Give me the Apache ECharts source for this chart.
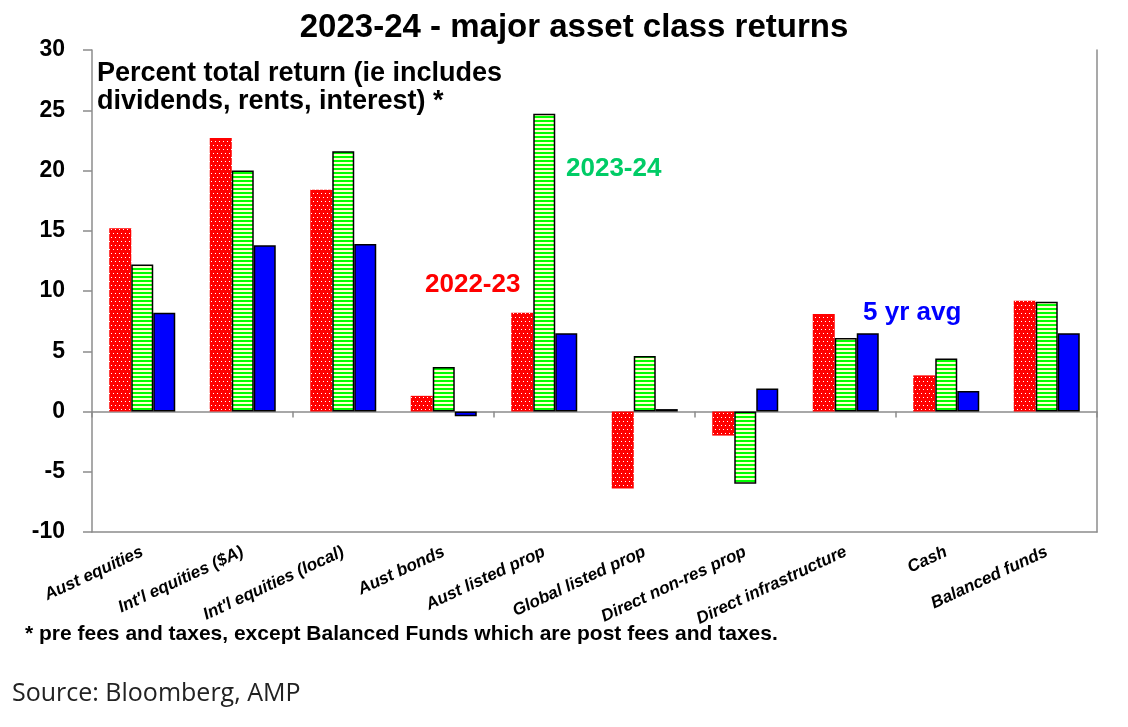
<!DOCTYPE html>
<html>
<head>
<meta charset="utf-8">
<script src="https://cdn.jsdelivr.net/npm/echarts@6/dist/echarts.min.js"></script>
<style>
  html, body { margin: 0; padding: 0; background: #fff; }
  #chart { width: 1128px; height: 727px; }
</style>
</head>
<body>
<div id="chart"></div>
<script>
const categories = ['Aust equities', "Int'l equities ($A)", "Int'l equities (local)", 'Aust bonds', 'Aust listed prop', 'Global listed prop', 'Direct non-res prop', 'Direct infrastructure', 'Cash', 'Balanced funds'];
const fy2223 = [15.2, 22.7, 18.4, 1.3, 8.2, -6.4, -2.0, 8.1, 3.0, 9.2];
const fy2324 = [12.2, 20.0, 21.6, 3.7, 24.7, 4.6, -6.0, 6.1, 4.4, 9.1];
const avg5yr = [8.2, 13.8, 13.9, -0.4, 6.5, 0.2, 1.9, 6.5, 1.7, 6.5];

// fill patterns like the excel chart
function dotPattern() {
  const c = document.createElement('canvas');
  c.width = 8; c.height = 8;
  const ctx = c.getContext('2d');
  ctx.fillStyle = '#ff0000';
  ctx.fillRect(0, 0, 8, 8);
  ctx.fillStyle = '#ffffff';
  ctx.fillRect(1, 1, 1, 1);
  ctx.fillRect(5, 1, 1, 1);
  ctx.fillRect(3, 5, 1, 1);
  ctx.fillRect(7, 5, 1, 1);
  return c;
}
function stripePattern() {
  const c = document.createElement('canvas');
  c.width = 4; c.height = 4;
  const ctx = c.getContext('2d');
  ctx.fillStyle = '#00ff00';
  ctx.fillRect(0, 0, 4, 2);
  ctx.fillStyle = '#ffffcc';
  ctx.fillRect(0, 2, 4, 2);
  return c;
}

const chart = echarts.init(document.getElementById('chart'));
const axisGrey = '#8c8c8c';
const fam = '"Liberation Sans", Arial, sans-serif';
const f = s => 'bold ' + s + 'px ' + fam;

const option = {
  animation: false,
  grid: { left: 92, right: 31, top: 50, bottom: 195 },
  xAxis: [
    {
      type: 'category',
      data: categories,
      position: 'bottom',
      axisLine: { onZero: false, lineStyle: { color: axisGrey, width: 1.5 } },
      axisTick: { show: false },
      axisLabel: {
        rotate: 25,
        interval: 0,
        margin: 19,
        color: '#000',
        fontSize: 17,
        fontWeight: 'bold',
        fontStyle: 'italic',
        fontFamily: fam
      }
    },
    {
      type: 'category',
      data: categories,
      position: 'bottom',
      axisLine: { onZero: true, onZeroAxisIndex: 0, lineStyle: { color: axisGrey, width: 1.5 } },
      axisTick: { show: true, length: 6, lineStyle: { color: axisGrey, width: 1.5 } },
      axisLabel: { show: false }
    }
  ],
  yAxis: [
    {
      type: 'value',
      min: -10,
      max: 30,
      interval: 5,
      position: 'left',
      axisLine: { show: true, onZero: false, lineStyle: { color: axisGrey, width: 1.5 } },
      axisTick: { show: true, length: 9, lineStyle: { color: axisGrey, width: 1.5 } },
      splitLine: { show: false },
      axisLabel: {
        margin: 27,
        color: '#000',
        fontSize: 23,
        fontWeight: 'bold',
        fontFamily: fam
      }
    },
    {
      type: 'value',
      min: -10,
      max: 30,
      interval: 5,
      position: 'right',
      axisLine: { show: true, onZero: false, lineStyle: { color: axisGrey, width: 1.5 } },
      axisTick: { show: false },
      splitLine: { show: false },
      axisLabel: { show: false }
    }
  ],
  series: [
    {
      name: '2022-23',
      type: 'bar',
      data: fy2223,
      barWidth: 22,
      barGap: '0%',
      itemStyle: { color: { image: dotPattern(), repeat: 'repeat' } }
    },
    {
      name: '2023-24',
      type: 'bar',
      data: fy2324,
      barWidth: 22,
      barGap: '0%',
      itemStyle: { color: { image: stripePattern(), repeat: 'repeat' }, borderColor: '#000', borderWidth: 1.5 }
    },
    {
      name: '5 yr avg',
      type: 'bar',
      data: avg5yr,
      barWidth: 22,
      barGap: '0%',
      itemStyle: { color: '#0000ff', borderColor: '#000', borderWidth: 1.5 }
    }
  ],
  graphic: [
    { type: 'text', x: 574, y: 28, style: { text: '2023-24 - major asset class returns', font: f(33), fill: '#000', textAlign: 'center', textVerticalAlign: 'middle' } },
    { type: 'text', x: 97, y: 74, style: { text: 'Percent total return (ie includes', font: f(27), fill: '#000', textVerticalAlign: 'middle' } },
    { type: 'text', x: 97, y: 102, style: { text: 'dividends, rents, interest) *', font: f(27), fill: '#000', textVerticalAlign: 'middle' } },
    { type: 'text', x: 425, y: 285, style: { text: '2022-23', font: f(26), fill: '#ff0000', textVerticalAlign: 'middle' } },
    { type: 'text', x: 566, y: 169, style: { text: '2023-24', font: f(26), fill: '#00cc66', textVerticalAlign: 'middle' } },
    { type: 'text', x: 863, y: 313, style: { text: '5 yr avg', font: f(26), fill: '#0000ff', textVerticalAlign: 'middle' } },
    { type: 'text', x: 25, y: 634, style: { text: '* pre fees and taxes, except Balanced Funds which are post fees and taxes.', font: f(21), fill: '#000', textVerticalAlign: 'middle' } },
    { type: 'text', x: 12, y: 694, style: { text: 'Source: Bloomberg, AMP', font: '25px "Open Sans", sans-serif', fill: '#222', textVerticalAlign: 'middle' } }
  ]
};

chart.setOption(option);
</script>
</body>
</html>
